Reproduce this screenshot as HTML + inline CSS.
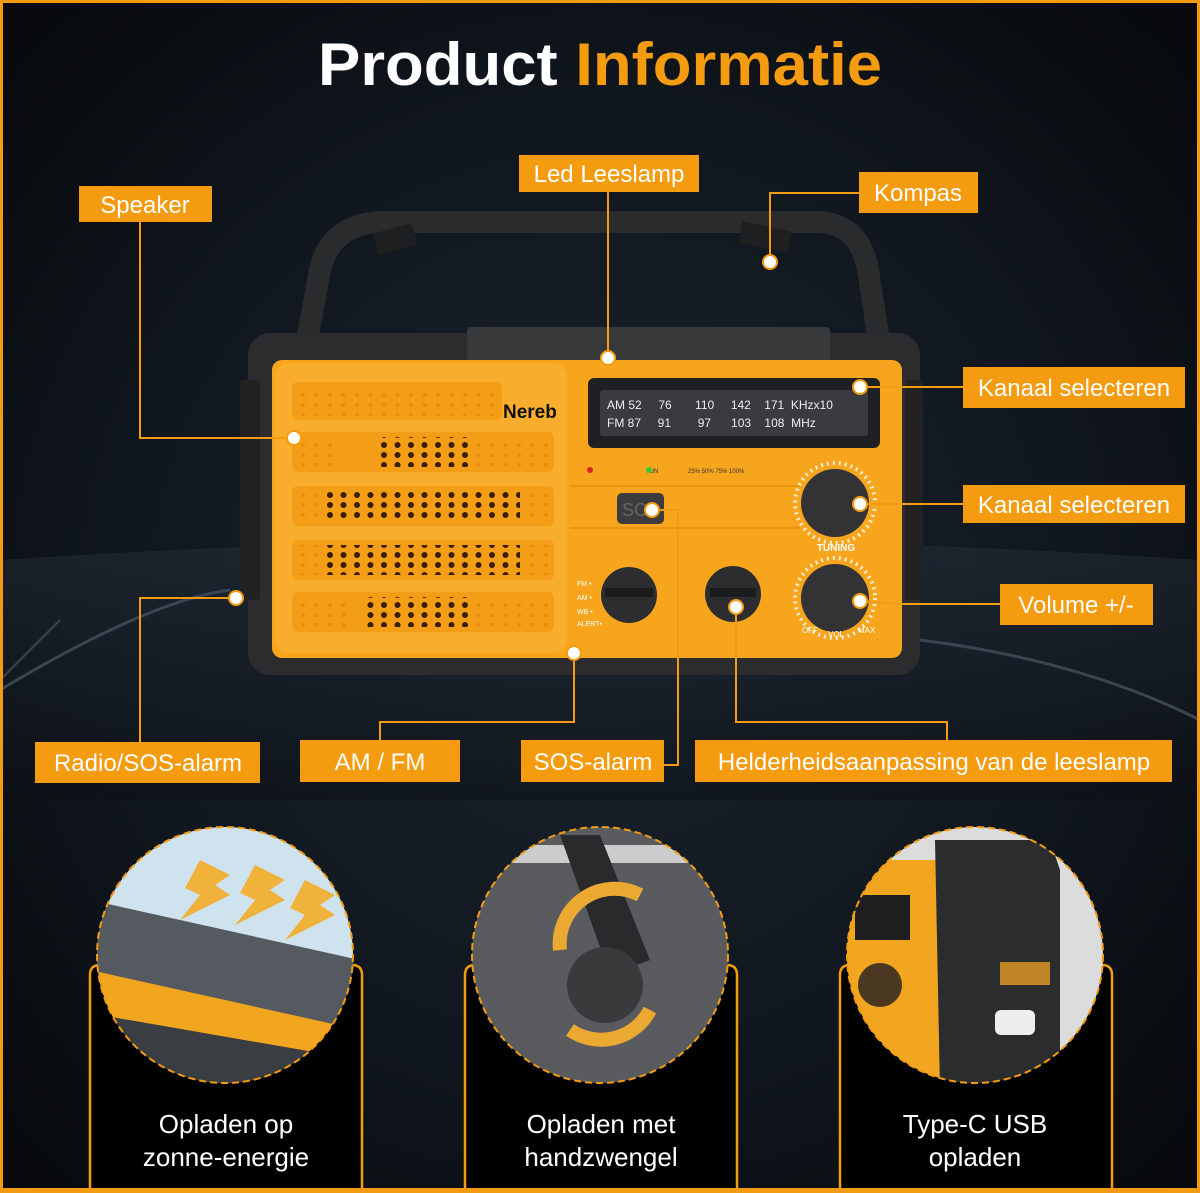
<!DOCTYPE html>
<html><head><meta charset="utf-8">
<style>
html,body{margin:0;padding:0;background:#0a0d12;}
svg{display:block;}
text{font-family:"Liberation Sans",sans-serif;}
</style></head>
<body>
<svg width="1200" height="1193" viewBox="0 0 1200 1193" xmlns="http://www.w3.org/2000/svg">
<defs>
<radialGradient id="bg" cx="0.5" cy="0.5" r="0.7">
<stop offset="0" stop-color="#1a232e"/><stop offset="0.6" stop-color="#10161d"/><stop offset="1" stop-color="#07090c"/>
</radialGradient>
<linearGradient id="road" x1="0" y1="0" x2="0" y2="1">
<stop offset="0" stop-color="#26303c"/><stop offset="1" stop-color="#0c1015"/>
</linearGradient>
<pattern id="holes" x="0" y="0" width="13.5" height="10" patternUnits="userSpaceOnUse">
<circle cx="6" cy="5" r="3" fill="#3a1e04"/>
</pattern>
<pattern id="holesL" x="0" y="0" width="13.5" height="10" patternUnits="userSpaceOnUse">
<circle cx="6" cy="5" r="2" fill="#e48f0e"/>
</pattern>
<clipPath id="c1"><circle cx="225" cy="955" r="128"/></clipPath>
<clipPath id="c2"><circle cx="600" cy="955" r="128"/></clipPath>
<clipPath id="c3"><circle cx="975" cy="955" r="128"/></clipPath>
</defs>
<rect width="1200" height="1193" fill="url(#bg)"/>
<path d="M0 560 Q600 520 1200 560 L1200 800 L0 800 Z" fill="url(#road)" opacity="0.5"/>
<path d="M0 690 Q150 600 230 590" stroke="#3a4552" stroke-width="3" fill="none"/>
<path d="M920 640 Q1080 660 1200 720" stroke="#3a4552" stroke-width="3" fill="none"/>
<path d="M0 680 L60 620" stroke="#3a4552" stroke-width="2" fill="none"/>
<rect x="1.5" y="1.5" width="1197" height="1190" fill="none" stroke="#f39c12" stroke-width="3"/>

<text x="600" y="85" text-anchor="middle" font-size="60" font-weight="bold" fill="#fff" textLength="564" lengthAdjust="spacingAndGlyphs">Product <tspan fill="#f59b10">Informatie</tspan></text>

<path d="M308 335 L320 270 Q330 225 380 222 L820 222 Q860 225 868 270 L878 335" stroke="#2a2b2d" stroke-width="22" fill="none" stroke-linejoin="round"/>
<rect x="375" y="228" width="40" height="22" fill="#1e1f21" transform="rotate(-15 395 239)"/>
<rect x="740" y="226" width="50" height="22" fill="#1e1f21" transform="rotate(12 765 237)"/>

<rect x="248" y="333" width="672" height="342" rx="22" fill="#2c2c2e"/>
<rect x="467" y="327" width="363" height="36" rx="4" fill="#38393b"/>
<rect x="240" y="380" width="20" height="220" rx="4" fill="#222"/>
<rect x="905" y="380" width="18" height="220" rx="4" fill="#222"/>
<rect x="272" y="360" width="630" height="298" rx="10" fill="#f6a51d"/>
<rect x="275" y="363" width="292" height="290" rx="14" fill="#f8ad2c"/>
<g fill="#f49e18">
<rect x="292" y="382" width="210" height="38" rx="6"/>
<rect x="292" y="432" width="262" height="40" rx="6"/>
<rect x="292" y="486" width="262" height="40" rx="6"/>
<rect x="292" y="540" width="262" height="40" rx="6"/>
<rect x="292" y="592" width="262" height="40" rx="6"/>
</g>
<g fill="url(#holesL)">
<rect x="298" y="386" width="200" height="30"/>
<rect x="298" y="437" width="250" height="30"/>
<rect x="298" y="491" width="250" height="30"/>
<rect x="298" y="545" width="250" height="30"/>
<rect x="298" y="597" width="250" height="30"/>
</g>
<g fill="#f49e18">
<rect x="336" y="437" width="140" height="30"/>
<rect x="318" y="491" width="204" height="30"/>
<rect x="318" y="545" width="204" height="30"/>
<rect x="346" y="597" width="130" height="30"/>
</g>
<g fill="url(#holes)">
<rect x="376" y="437" width="96" height="30"/>
<rect x="322" y="491" width="198" height="30"/>
<rect x="322" y="545" width="198" height="30"/>
<rect x="363" y="597" width="110" height="30"/>
</g>
<text x="503" y="418" font-size="19" font-weight="bold" fill="#111">Nereb</text>
<rect x="588" y="378" width="292" height="70" rx="6" fill="#1f2022"/>
<rect x="600" y="390" width="268" height="46" rx="3" fill="#3a3b3e"/>
<g font-size="12" fill="#eee">
<text x="607" y="409">AM 52&#160;&#160;&#160;&#160;&#160;76&#160;&#160;&#160;&#160;&#160;&#160;&#160;110&#160;&#160;&#160;&#160;&#160;142&#160;&#160;&#160;&#160;171&#160;&#160;KHzx10</text>
<text x="607" y="427">FM 87&#160;&#160;&#160;&#160;&#160;91&#160;&#160;&#160;&#160;&#160;&#160;&#160;&#160;97&#160;&#160;&#160;&#160;&#160;&#160;103&#160;&#160;&#160;&#160;108&#160;&#160;MHz</text>
</g>
<g font-size="6" fill="#333"><text x="646" y="473">TUN</text><text x="688" y="473">25% 50% 75% 100%</text></g>
<circle cx="590" cy="470" r="3" fill="#d22"/><circle cx="649" cy="470" r="3" fill="#3c3"/>
<line x1="570" y1="486" x2="800" y2="486" stroke="#e8940f" stroke-width="2"/>
<line x1="570" y1="528" x2="800" y2="528" stroke="#e8940f" stroke-width="2"/>
<rect x="617" y="493" width="47" height="31" rx="5" fill="#3c3c3e"/>
<text x="622" y="516" font-size="18" fill="#666">SO</text>
<circle cx="835" cy="503" r="40" fill="none" stroke="#fff" stroke-width="4" stroke-dasharray="2 4" opacity="0.8"/>
<circle cx="835" cy="503" r="34" fill="#333335"/>
<text x="836" y="551" text-anchor="middle" font-size="10" font-weight="bold" fill="#fff">TUNING</text>
<circle cx="835" cy="598" r="40" fill="none" stroke="#fff" stroke-width="4" stroke-dasharray="2 4" opacity="0.8"/>
<circle cx="835" cy="598" r="34" fill="#333335"/>
<text x="802" y="633" font-size="8" fill="#fff">OFF</text><text x="828" y="637" font-size="8" fill="#fff">VOL</text><text x="858" y="633" font-size="8" fill="#fff">MAX</text>
<circle cx="629" cy="595" r="28" fill="#2d2d2f"/><rect x="605" y="588" width="48" height="9" fill="#1c1c1d"/>
<circle cx="733" cy="594" r="28" fill="#2d2d2f"/><rect x="710" y="588" width="46" height="9" fill="#1c1c1d"/>
<g font-size="7" fill="#fff"><text x="577" y="586">FM •</text><text x="577" y="600">AM •</text><text x="577" y="614">WB •</text><text x="577" y="626">ALERT•</text></g>

<g stroke="#f59b10" stroke-width="2" fill="none">
<path d="M140 222 V438 H294"/>
<path d="M608 192 V358"/>
<path d="M859 193 H770 V262"/>
<path d="M860 387 H963"/>
<path d="M860 504 H963"/>
<path d="M860 601 L900 604 H1000"/>
<path d="M236 598 H140 V742"/>
<path d="M574 653 V722 H380 V740"/>
<path d="M652 510 H678 V765 H664"/>
<path d="M736 607 V722 H947 V740"/>
</g>
<g fill="#fff" stroke="#f59b10" stroke-width="2">
<circle cx="294" cy="438" r="7"/><circle cx="608" cy="358" r="7"/><circle cx="770" cy="262" r="7"/>
<circle cx="860" cy="387" r="7"/><circle cx="860" cy="504" r="7"/><circle cx="860" cy="601" r="7"/>
<circle cx="236" cy="598" r="7"/><circle cx="574" cy="653" r="7"/><circle cx="652" cy="510" r="7"/><circle cx="736" cy="607" r="7"/>
</g>

<g fill="#f59b10">
<rect x="79" y="186" width="133" height="36"/>
<rect x="519" y="155" width="180" height="37"/>
<rect x="859" y="172" width="119" height="41"/>
<rect x="963" y="367" width="222" height="41"/>
<rect x="963" y="485" width="222" height="38"/>
<rect x="1000" y="584" width="153" height="41"/>
<rect x="35" y="742" width="225" height="41"/>
<rect x="300" y="740" width="160" height="42"/>
<rect x="521" y="740" width="143" height="42"/>
<rect x="695" y="740" width="477" height="42"/>
</g>
<g fill="#fff" font-size="24" text-anchor="middle">
<text x="145" y="213">Speaker</text>
<text x="609" y="182">Led Leeslamp</text>
<text x="918" y="201">Kompas</text>
<text x="1074" y="396">Kanaal selecteren</text>
<text x="1074" y="513">Kanaal selecteren</text>
<text x="1076" y="613">Volume +/-</text>
<text x="148" y="771">Radio/SOS-alarm</text>
<text x="380" y="770">AM / FM</text>
<text x="593" y="770">SOS-alarm</text>
<text x="934" y="770">Helderheidsaanpassing van de leeslamp</text>
</g>

<g fill="#000" stroke="#f39c12" stroke-width="2.5">
<path d="M90 1190 V975 Q90 965 100 965 H352 Q362 965 362 975 V1190"/>
<path d="M465 1190 V975 Q465 965 475 965 H727 Q737 965 737 975 V1190"/>
<path d="M840 1190 V975 Q840 965 850 965 H1102 Q1112 965 1112 975 V1190"/>
</g>
<g clip-path="url(#c1)">
<rect x="90" y="820" width="270" height="270" fill="#cfe3ee"/>
<path d="M90 900 L360 960 L360 1090 L90 1090 Z" fill="#555a60"/>
<path d="M90 970 L360 1030 L360 1090 L90 1090 Z" fill="#f2a51f"/>
<path d="M100 1015 L360 1060 L360 1090 L100 1090 Z" fill="#3a3d42"/>
<g fill="#f0b23a"><path d="M200 860 L230 875 L215 885 L230 895 L180 920 L200 895 L185 888 Z"/><path d="M255 865 L285 880 L270 890 L285 900 L235 925 L255 900 L240 893 Z"/><path d="M305 880 L335 895 L320 905 L335 915 L285 940 L305 915 L290 908 Z"/></g>
</g>
<circle cx="225" cy="955" r="128" fill="none" stroke="#f39c12" stroke-width="2" stroke-dasharray="7 4"/>
<g clip-path="url(#c2)">
<rect x="465" y="820" width="270" height="270" fill="#595b5f"/>
<rect x="480" y="845" width="220" height="18" rx="8" fill="#ccc"/>
<path d="M560 835 L600 835 L650 960 L610 975 Z" fill="#2a2a2c"/>
<circle cx="605" cy="985" r="38" fill="#3a3a3c"/>
<path d="M560 950 A55 55 0 0 1 640 895" stroke="#eba932" stroke-width="14" fill="none"/>
<path d="M650 1010 A55 55 0 0 1 570 1030" stroke="#eba932" stroke-width="14" fill="none"/>
</g>
<circle cx="600" cy="955" r="128" fill="none" stroke="#f39c12" stroke-width="2" stroke-dasharray="7 4"/>
<g clip-path="url(#c3)">
<rect x="840" y="820" width="270" height="270" fill="#dcdcdc"/>
<rect x="845" y="860" width="95" height="230" fill="#f2a51f"/>
<rect x="855" y="895" width="55" height="45" fill="#1e1e20"/>
<circle cx="880" cy="985" r="22" fill="#4a3820"/>
<path d="M935 840 L1050 840 L1060 870 L1060 1090 L940 1090 Z" fill="#2b2c2e"/>
<path d="M1000 962 L1050 962 L1050 985 L1000 985 Z" fill="#e69c22" opacity="0.8"/>
<rect x="995" y="1010" width="40" height="25" rx="6" fill="#eee"/>
</g>
<circle cx="975" cy="955" r="128" fill="none" stroke="#f39c12" stroke-width="2" stroke-dasharray="7 4"/>
<g fill="#fff" font-size="26" text-anchor="middle">
<text x="226" y="1133">Opladen op</text><text x="226" y="1166">zonne-energie</text>
<text x="601" y="1133">Opladen met</text><text x="601" y="1166">handzwengel</text>
<text x="975" y="1133">Type-C USB</text><text x="975" y="1166">opladen</text>
</g>
<rect x="0" y="1188" width="1200" height="5" fill="#f39c12"/>
</svg>
</body></html>
